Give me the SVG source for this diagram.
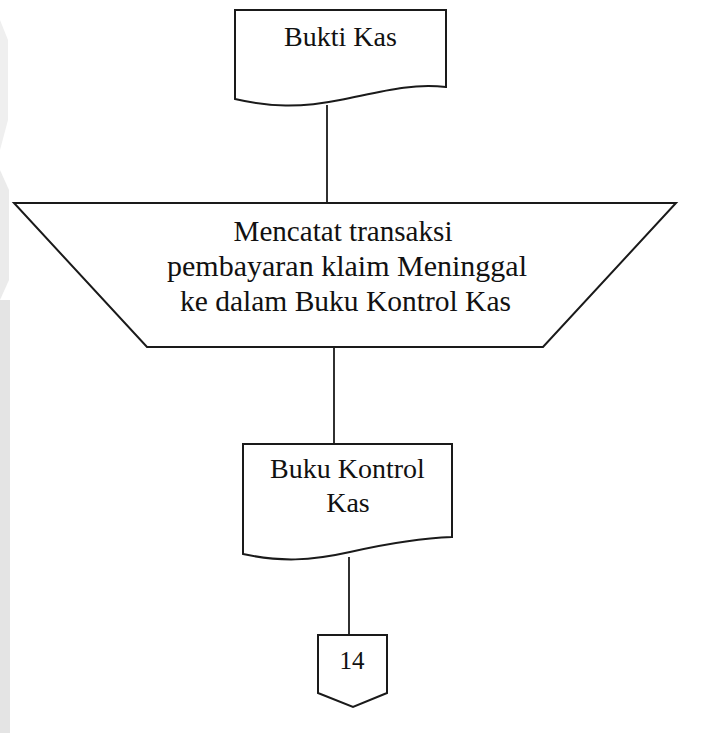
<svg xmlns="http://www.w3.org/2000/svg" width="707" height="733" viewBox="0 0 707 733">
  <style>
    .shape { fill: #ffffff; stroke: #1a1a1a; stroke-width: 2; stroke-linejoin: miter; }
    .link { fill: none; stroke: #1a1a1a; stroke-width: 1.8; }
    .label { font-family: "Liberation Serif", "Times New Roman", serif; font-size: 28px; fill: #111111; text-anchor: middle; }
    .narrow { font-size: 30px; }
  </style>

  <rect x="0" y="0" width="707" height="733" fill="#ffffff"/>

  <!-- faint edge band -->
  <g id="edge-band" fill="#e4e4e4">
    <rect x="0" y="300" width="10" height="433"/>
    <polygon points="0,20 8,40 8,120 0,150" fill="#efefef"/>
    <polygon points="0,170 9,190 9,280 0,300" fill="#ebebeb"/>
  </g>

  <!-- connectors -->
  <g id="connectors">
    <line class="link" x1="327" y1="105" x2="327" y2="203"/>
    <line class="link" x1="334" y1="347" x2="334" y2="444"/>
    <line class="link" x1="349" y1="557" x2="349" y2="635"/>
  </g>

  <!-- document: Bukti Kas -->
  <g id="bukti-kas">
    <path class="shape" d="M235,10 H446 V87 C410,83 380,92 340,100 C300,108 270,107 235,99 Z"/>
    <text class="label" x="340.5" y="46">Bukti Kas</text>
  </g>

  <!-- manual operation -->
  <g id="mencatat">
    <polygon class="shape" points="14,203 676,203 543,347 147,347"/>
    <text class="label narrow" x="343" y="241" textLength="219" lengthAdjust="spacingAndGlyphs">Mencatat transaksi</text>
    <text class="label narrow" x="347" y="276" textLength="360" lengthAdjust="spacingAndGlyphs">pembayaran klaim Meninggal</text>
    <text class="label narrow" x="345.5" y="311" textLength="331" lengthAdjust="spacingAndGlyphs">ke dalam Buku Kontrol Kas</text>
  </g>

  <!-- document: Buku Kontrol Kas -->
  <g id="buku-kontrol-kas">
    <path class="shape" d="M243,444 H452 V537 C420,538 390,543 350,552 C310,561 280,562 243,554 Z"/>
    <text class="label" x="347.5" y="478">Buku Kontrol</text>
    <text class="label" x="348" y="512">Kas</text>
  </g>

  <!-- off-page connector -->
  <g id="off-page-14">
    <polygon class="shape" points="318,635 387,635 387,693 353,707 318,693"/>
    <text class="label" x="352" y="669" style="font-size:25px">14</text>
  </g>
</svg>
